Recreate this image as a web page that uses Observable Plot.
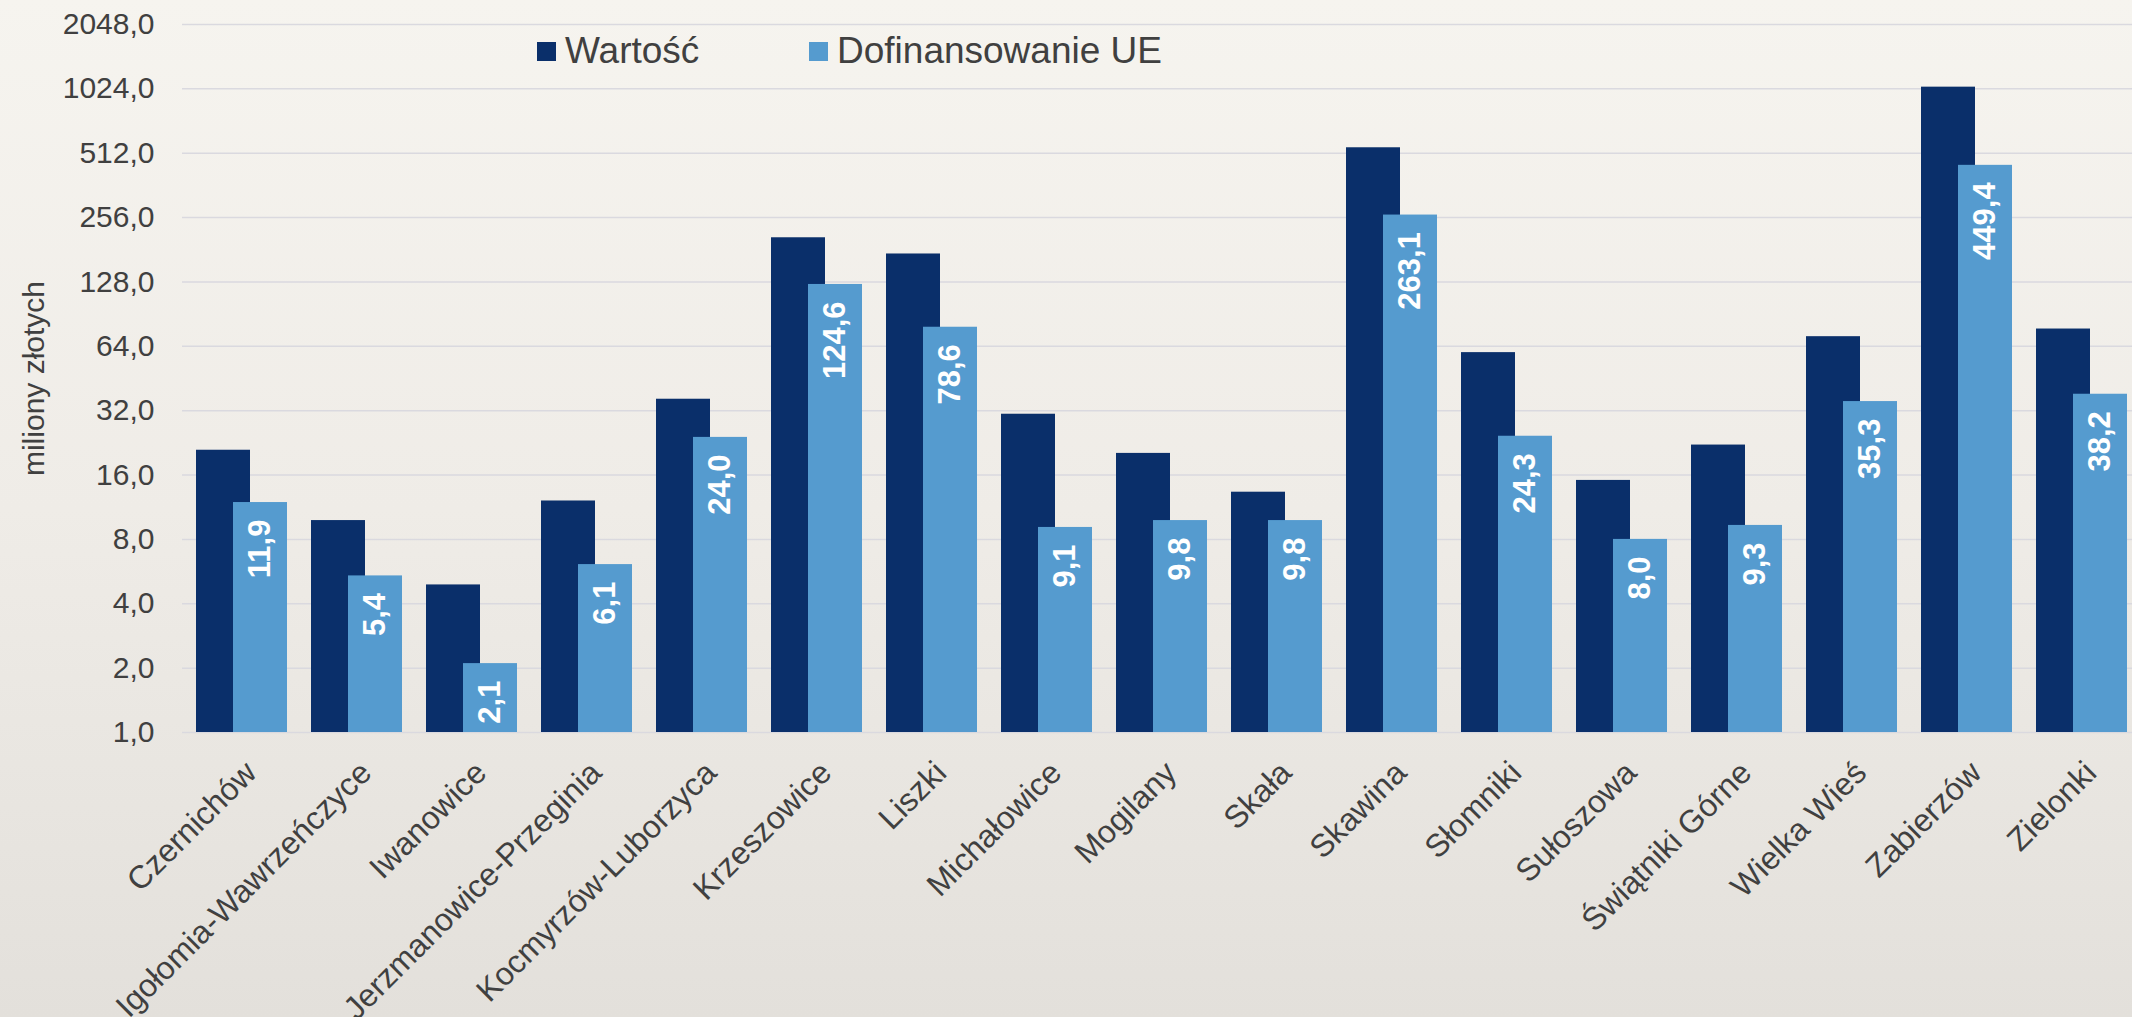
<!DOCTYPE html>
<html>
<head>
<meta charset="utf-8">
<script src="https://cdn.jsdelivr.net/npm/d3@7"></script>
<script src="https://cdn.jsdelivr.net/npm/@observablehq/plot@0.6"></script>
<style>
  html, body { margin: 0; padding: 0; overflow: hidden; }
  body {
    width: 2132px; height: 1017px;
    background: linear-gradient(180deg, #f6f4ef 0%, #efece7 50%, #e3e0db 100%);
    font-family: "Liberation Sans", Arial, Helvetica, sans-serif;
  }
  #wrap { position: relative; width: 2132px; height: 1017px; }
  #legend { position: absolute; left: 0; top: 0; pointer-events: none; }
</style>
</head>
<body>
<div id="wrap"></div>
<script>
// ---- data ----
const categories = [
  "Czernichów", "Igołomia-Wawrzeńczyce", "Iwanowice", "Jerzmanowice-Przeginia",
  "Kocmyrzów-Luborzyca", "Krzeszowice", "Liszki", "Michałowice", "Mogilany",
  "Skała", "Skawina", "Słomniki", "Sułoszowa", "Świątniki Górne",
  "Wielka Wieś", "Zabierzów", "Zielonki"
];
const wartosc = [20.9, 9.8, 4.9, 12.1, 36.2, 206, 173, 30.8, 20.2, 13.3, 543, 59.8, 15.1, 22.1, 71.0, 1043, 77.1];
const dofinansowanie = [11.9, 5.4, 2.1, 6.1, 24.0, 124.6, 78.6, 9.1, 9.8, 9.8, 263.1, 24.3, 8.0, 9.3, 35.3, 449.4, 38.2];
const yTicks = [1, 2, 4, 8, 16, 32, 64, 128, 256, 512, 1024, 2048];
const seriesNames = ["Wartość", "Dofinansowanie UE"];
const seriesColors = ["#0a2f6a", "#559bcf"];
const yTitle = "miliony złotych";

const data = categories.map((g, i) => ({gmina: g, w: wartosc[i], d: dofinansowanie[i]}));
const fmt = v => d3.format(".1f")(v).replace(".", ",");

const FONT = "'Liberation Sans', Arial, Helvetica, sans-serif";
const TEXT = "#404040";

const chart = Plot.plot({
  width: 2132,
  height: 1017,
  marginLeft: 182,
  marginRight: -8,
  marginTop: 24,
  marginBottom: 285,
  style: {background: "transparent", fontFamily: FONT, color: TEXT, overflow: "visible"},
  x: {domain: categories, paddingInner: 0.21, paddingOuter: 0.105, label: null, axis: null},
  y: {type: "log", base: 2, domain: [1, 2048], label: null, axis: null},
  marks: [
    Plot.gridY(yTicks, {stroke: "#dad9df", strokeOpacity: 1, strokeWidth: 1.5}),
    Plot.axisY(yTicks, {
      tickSize: 0, tickPadding: 28, fontSize: 30, fill: TEXT,
      tickFormat: fmt, label: null
    }),
    Plot.text([yTitle], {
      frameAnchor: "left", dx: -148, rotate: -90,
      textAnchor: "middle", lineAnchor: "middle",
      fontSize: 30, fill: TEXT
    }),
    Plot.barY(data, {x: "gmina", y1: 1, y2: "w", fill: seriesColors[0], insetRight: 37}),
    Plot.barY(data, {x: "gmina", y1: 1, y2: "d", fill: seriesColors[1], insetLeft: 37}),
    Plot.text(data, {
      x: "gmina", y: "d", text: d => fmt(d.d),
      rotate: -90, textAnchor: "end", lineAnchor: "middle",
      dx: 18.5, dy: 17, fill: "white", fontWeight: "bold", fontSize: 31
    }),
    Plot.text(categories, {
      x: d => d, frameAnchor: "bottom", rotate: -45,
      textAnchor: "end", lineAnchor: "middle",
      dx: 9, dy: 35, fontSize: 32, fill: TEXT
    })
  ]
});

const wrap = document.getElementById("wrap");
wrap.appendChild(chart);

// ---- legend (overlay at top of chart) ----
const legendX = [537, 809];
const legend = d3.select(wrap).append("svg")
  .attr("id", "legend")
  .attr("width", 2132).attr("height", 100);
const items = legend.selectAll("g").data(seriesNames).join("g")
  .attr("transform", (d, i) => `translate(${legendX[i]},0)`);
items.append("rect")
  .attr("x", 0).attr("y", 42).attr("width", 19).attr("height", 19)
  .attr("fill", (d, i) => seriesColors[i]);
items.append("text")
  .attr("x", 28).attr("y", 63.3)
  .attr("font-family", FONT).attr("font-size", 37).attr("fill", TEXT)
  .text(d => d);
</script>
</body>
</html>
